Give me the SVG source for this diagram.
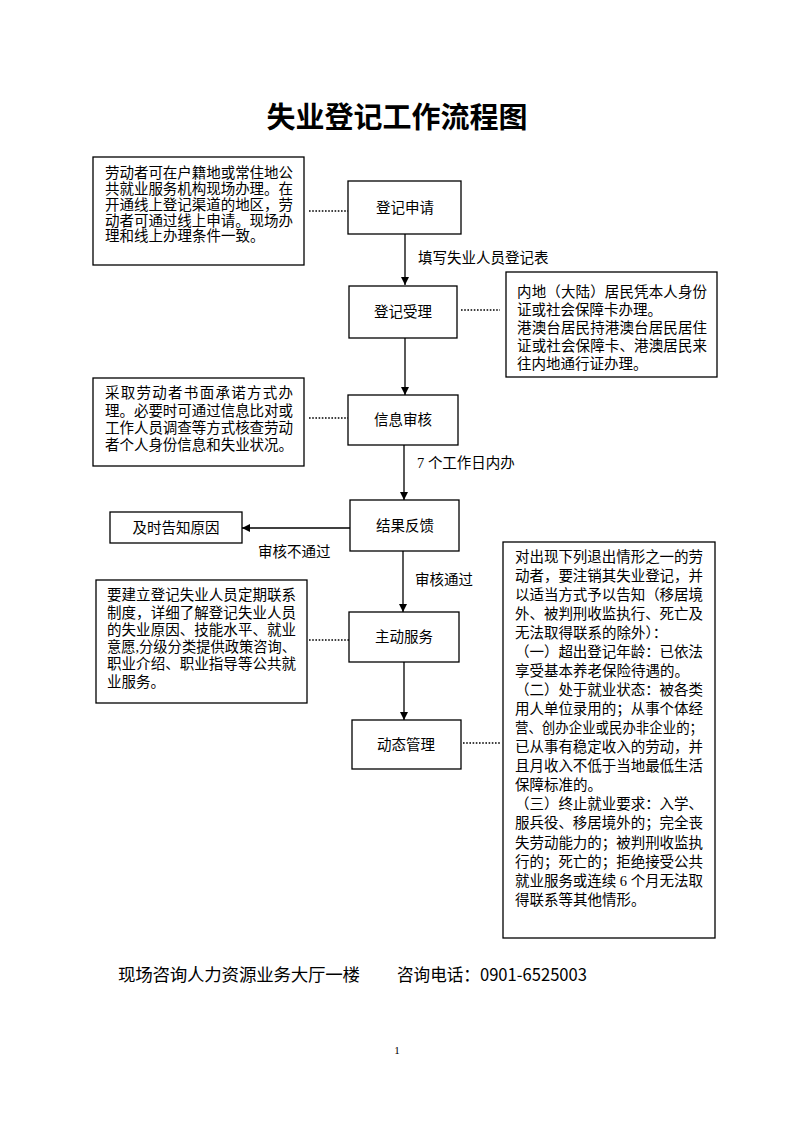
<svg xmlns="http://www.w3.org/2000/svg" width="793" height="1122" viewBox="0 0 793 1122">
<style>
  .bg { fill: #ffffff; }
  .box { fill: #ffffff; stroke: #000000; stroke-width: 1.3; }
  .t { font-family: "Liberation Serif", "Noto Sans CJK SC", serif; font-size: 14.5px; fill: #000000; }
  .c { text-anchor: middle; }
  .title { font-family: "Noto Sans CJK SC", sans-serif; font-size: 29px; font-weight: 700; fill: #000; text-anchor: middle; }
  .foot { font-family: "Noto Sans CJK SC", sans-serif; font-size: 17.5px; fill: #000; }
  .line { stroke: #000000; stroke-width: 1.3; fill: none; }
  .dot { stroke: #000000; stroke-width: 1.6; fill: none; stroke-dasharray: 1.6 1.6; }
</style>
<defs>
  <marker id="arr" viewBox="0 0 10 10" refX="10" refY="5" markerWidth="8" markerHeight="8" markerUnits="userSpaceOnUse" orient="auto">
    <path d="M0,0 L10,5 L0,10 Z" fill="#000"/>
  </marker>
</defs>
<rect class="bg" x="0" y="0" width="793" height="1122"/>

<text id="title" class="title" x="397" y="128">失业登记工作流程图</text>

<g id="connectors">
  <line class="line" x1="405" y1="234" x2="405" y2="285" marker-end="url(#arr)"/>
  <line class="line" x1="405" y1="338" x2="405" y2="395" marker-end="url(#arr)"/>
  <line class="line" x1="404" y1="445" x2="404" y2="500" marker-end="url(#arr)"/>
  <line class="line" x1="350" y1="528" x2="242" y2="528" marker-end="url(#arr)"/>
  <line class="line" x1="403" y1="551" x2="403" y2="612" marker-end="url(#arr)"/>
  <line class="line" x1="404" y1="662" x2="404" y2="720" marker-end="url(#arr)"/>
  <line class="dot" x1="309" y1="211" x2="348" y2="211"/>
  <line class="dot" x1="461" y1="310" x2="500" y2="310"/>
  <line class="dot" x1="309" y1="418" x2="348" y2="418"/>
  <line class="dot" x1="309" y1="640" x2="349" y2="640"/>
  <line class="dot" x1="463" y1="743" x2="501" y2="743"/>
  <text class="t" x="418" y="263">填写失业人员登记表</text>
  <text class="t" x="417" y="468">7 个工作日内办</text>
  <text class="t" x="258" y="557">审核不通过</text>
  <text class="t" x="415" y="585">审核通过</text>
</g>

<g id="node-apply">
  <rect class="box" x="348" y="181" width="113" height="53"/>
  <text class="t c" x="405" y="213">登记申请</text>
</g>
<g id="node-accept">
  <rect class="box" x="349" y="286" width="108" height="52"/>
  <text class="t c" x="403" y="317">登记受理</text>
</g>
<g id="node-review">
  <rect class="box" x="348" y="395" width="110" height="50"/>
  <text class="t c" x="403" y="425">信息审核</text>
</g>
<g id="node-result">
  <rect class="box" x="350" y="500" width="109" height="51"/>
  <text class="t c" x="405" y="531">结果反馈</text>
</g>
<g id="node-inform">
  <rect class="box" x="110" y="512" width="132" height="31"/>
  <text class="t c" x="176" y="533">及时告知原因</text>
</g>
<g id="node-service">
  <rect class="box" x="349" y="612" width="110" height="50"/>
  <text class="t c" x="404" y="642">主动服务</text>
</g>
<g id="node-manage">
  <rect class="box" x="352" y="720" width="109" height="49"/>
  <text class="t c" x="406" y="750">动态管理</text>
</g>

<g id="note-apply">
  <rect class="box" x="93" y="157" width="211" height="108"/>
  <text class="t" x="105" y="178" textLength="188" lengthAdjust="spacing">劳动者可在户籍地或常住地公</text>
  <text class="t" x="105" y="194" textLength="188" lengthAdjust="spacing">共就业服务机构现场办理。在</text>
  <text class="t" x="105" y="210" textLength="188" lengthAdjust="spacing">开通线上登记渠道的地区，劳</text>
  <text class="t" x="105" y="226" textLength="188" lengthAdjust="spacing">动者可通过线上申请。现场办</text>
  <text class="t" x="105" y="241">理和线上办理条件一致。</text>
</g>

<g id="note-accept">
  <rect class="box" x="506" y="272" width="211" height="105"/>
  <text class="t" x="517" y="297" textLength="190" lengthAdjust="spacing">内地（大陆）居民凭本人身份</text>
  <text class="t" x="517" y="315">证或社会保障卡办理。</text>
  <text class="t" x="517" y="333" textLength="190" lengthAdjust="spacing">港澳台居民持港澳台居民居住</text>
  <text class="t" x="517" y="351" textLength="190" lengthAdjust="spacing">证或社会保障卡、港澳居民来</text>
  <text class="t" x="517" y="369">往内地通行证办理。</text>
</g>

<g id="note-review">
  <rect class="box" x="93" y="378" width="211" height="88"/>
  <text class="t" x="105" y="398" textLength="188" lengthAdjust="spacing">采取劳动者书面承诺方式办</text>
  <text class="t" x="105" y="416" textLength="188" lengthAdjust="spacing">理。必要时可通过信息比对或</text>
  <text class="t" x="105" y="433" textLength="188" lengthAdjust="spacing">工作人员调查等方式核查劳动</text>
  <text class="t" x="105" y="450" textLength="188" lengthAdjust="spacing">者个人身份信息和失业状况。</text>
</g>

<g id="note-service">
  <rect class="box" x="96" y="580" width="211" height="123"/>
  <text class="t" x="107" y="600" textLength="189" lengthAdjust="spacing">要建立登记失业人员定期联系</text>
  <text class="t" x="107" y="618" textLength="189" lengthAdjust="spacing">制度，详细了解登记失业人员</text>
  <text class="t" x="107" y="635" textLength="189" lengthAdjust="spacing">的失业原因、技能水平、就业</text>
  <text class="t" x="107" y="652" textLength="189" lengthAdjust="spacingAndGlyphs">意愿,分级分类提供政策咨询、</text>
  <text class="t" x="107" y="669" textLength="189" lengthAdjust="spacing">职业介绍、职业指导等公共就</text>
  <text class="t" x="107" y="687">业服务。</text>
</g>

<g id="note-manage">
  <rect class="box" x="503" y="542" width="212" height="396"/>
  <text class="t" x="515" y="562" textLength="188" lengthAdjust="spacing">对出现下列退出情形之一的劳</text>
  <text class="t" x="515" y="581" textLength="188" lengthAdjust="spacing">动者，要注销其失业登记，并</text>
  <text class="t" x="515" y="600" textLength="188" lengthAdjust="spacing">以适当方式予以告知（移居境</text>
  <text class="t" x="515" y="619" textLength="188" lengthAdjust="spacing">外、被判刑收监执行、死亡及</text>
  <text class="t" x="515" y="638">无法取得联系的除外）：</text>
  <text class="t" x="515" y="657" textLength="188" lengthAdjust="spacing">（一）超出登记年龄：已依法</text>
  <text class="t" x="515" y="676">享受基本养老保险待遇的。</text>
  <text class="t" x="515" y="695" textLength="188" lengthAdjust="spacing">（二）处于就业状态：被各类</text>
  <text class="t" x="515" y="714" textLength="188" lengthAdjust="spacing">用人单位录用的；从事个体经</text>
  <text class="t" x="515" y="733" textLength="188" lengthAdjust="spacingAndGlyphs">营、创办企业或民办非企业的；</text>
  <text class="t" x="515" y="752" textLength="188" lengthAdjust="spacing">已从事有稳定收入的劳动，并</text>
  <text class="t" x="515" y="771" textLength="188" lengthAdjust="spacing">且月收入不低于当地最低生活</text>
  <text class="t" x="515" y="790">保障标准的。</text>
  <text class="t" x="515" y="809" textLength="188" lengthAdjust="spacing">（三）终止就业要求：入学、</text>
  <text class="t" x="515" y="828" textLength="188" lengthAdjust="spacing">服兵役、移居境外的；完全丧</text>
  <text class="t" x="515" y="848" textLength="188" lengthAdjust="spacing">失劳动能力的；被判刑收监执</text>
  <text class="t" x="515" y="867" textLength="188" lengthAdjust="spacing">行的；死亡的；拒绝接受公共</text>
  <text class="t" x="515" y="886" textLength="188" lengthAdjust="spacing">就业服务或连续 6 个月无法取</text>
  <text class="t" x="515" y="905">得联系等其他情形。</text>
</g>

<g id="footer">
  <text class="foot" x="118" y="981" textLength="242" lengthAdjust="spacing">现场咨询人力资源业务大厅一楼</text>
  <text class="foot" x="397" y="981" textLength="190" lengthAdjust="spacingAndGlyphs">咨询电话：0901-6525003</text>
  <text x="397" y="1054" style="font-family:'Liberation Serif',serif;font-size:11px;text-anchor:middle;fill:#000">1</text>
</g>
</svg>
